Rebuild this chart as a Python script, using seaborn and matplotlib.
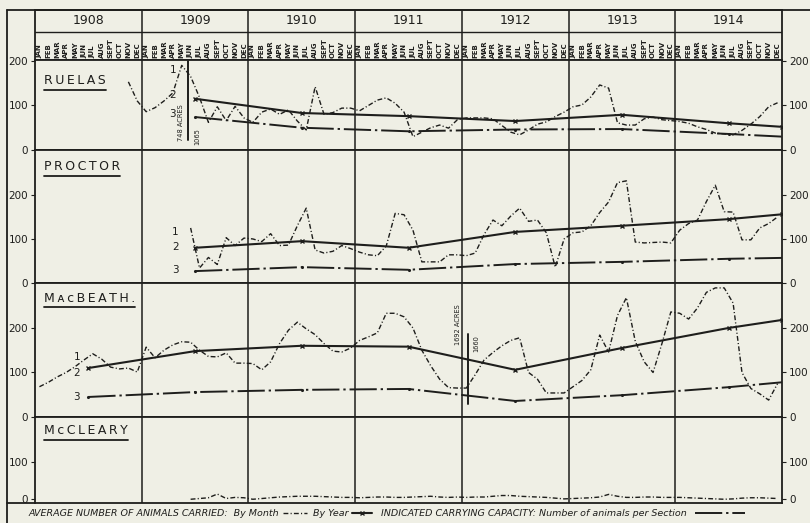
import numpy as np
import pandas as pd
import matplotlib
matplotlib.use('Agg')
import matplotlib.pyplot as plt
import seaborn as sns

# years and month headings
years = [1908, 1909, 1910, 1911, 1912, 1913, 1914]
months = ['JAN', 'FEB', 'MAR', 'APR', 'MAY', 'JUN', 'JUL', 'AUG', 'SEPT', 'OCT', 'NOV', 'DEC']

# average number of animals carried, by month (start = month index, 0 = Jan 1908)
ruelas_start = 10
ruelas_month = [153, 110,
                86, 95, 110, 128, 190, 165, 118, 62, 97, 66, 98, 72,
                62, 85, 92, 80, 90, 65, 45, 142, 80, 84, 94, 94,
                88, 100, 112, 117, 105, 85, 30, 40, 50, 56, 49, 68,
                72, 72, 72, 70, 55, 40, 34, 45, 58, 63, 75, 85,
                97, 101, 119, 146, 139, 61, 56, 56, 70, 74, 68, 66,
                64, 60, 52, 46, 38, 36, 34, 44, 58, 75, 97, 106]

proctor_start = 17
proctor_month = [125, 34, 58, 42, 103, 85, 102,
                 100, 94, 112, 85, 86, 130, 170, 75, 68, 72, 85, 78,
                 70, 64, 62, 84, 158, 155, 120, 48, 48, 48, 64, 64,
                 62, 68, 110, 143, 130, 152, 170, 140, 143, 114, 36, 100,
                 114, 116, 130, 160, 184, 228, 232, 93, 91, 92, 93, 91,
                 120, 135, 143, 185, 222, 162, 161, 98, 98, 125, 135, 150]

macbeath_start = 0
macbeath_month = [68, 78, 90, 100, 113, 128, 142, 130, 112, 108, 110, 101,
                  157, 133, 150, 162, 169, 168, 150, 136, 135, 144, 121, 121,
                  120, 106, 124, 165, 195, 213, 198, 185, 165, 148, 146, 155,
                  172, 180, 189, 233, 233, 225, 200, 150, 115, 85, 66, 65,
                  65, 95, 128, 145, 160, 172, 178, 100, 85, 54, 54, 54,
                  68, 82, 106, 184, 146, 228, 268, 170, 124, 100, 165, 236,
                  233, 220, 245, 280, 290, 290, 256, 100, 64, 52, 38, 75]

mccleary_start = 17
mccleary_month = [0, 2, 4, 14, 2, 5, 4,
                  0, 2, 4, 6, 7, 8, 8, 8, 7, 6, 5, 5,
                  4, 5, 6, 6, 5, 5, 6, 7, 8, 6, 5, 6,
                  5, 6, 6, 8, 10, 10, 8, 7, 6, 5, 3, 1,
                  2, 3, 4, 6, 13, 8, 5, 5, 6, 6, 5, 5,
                  5, 4, 3, 2, 1, 0, 1, 3, 4, 4, 3, 2]

# average by year (first year of record, values, value at end of 1914)
ruelas_year = [115, 83, 76, 65, 79, 60]
ruelas_year_end = 52
proctor_year = [80, 95, 80, 116, 130, 145]
proctor_year_end = 156
macbeath_year = [110, 148, 160, 158, 106, 155, 200]
macbeath_year_end = 218

# indicated carrying capacity
ruelas_cap = [74, 50, 42, 46, 47, 36]
ruelas_cap_end = 30
proctor_cap = [27, 36, 30, 43, 48, 55]
proctor_cap_end = 57
macbeath_cap = [45, 56, 61, 63, 36, 49, 67]
macbeath_cap_end = 78

ink = '#1e1e1c'
paper = '#efefe5'

sns.set_theme(style='white', rc={'figure.facecolor': paper, 'axes.facecolor': paper,
                                 'axes.edgecolor': ink, 'text.color': ink,
                                 'xtick.color': ink, 'ytick.color': ink})
plt.rcParams['font.family'] = ['DejaVu Sans']

W, H = 810, 523
fig = plt.figure(figsize=(W / 100, H / 100), dpi=100)


def box(x0, y0, x1, y1):
    return [x0 / W, 1 - y1 / H, (x1 - x0) / W, (y1 - y0) / H]


def spaced(s):
    return '\u2009'.join(s)


month_ls = (0, (3.5, 1.6, 0.8, 1.6))
cap_ls = (0, (14, 2, 1.2, 2))


def monthly_df(start, vals):
    return pd.DataFrame({'pos': np.arange(start, start + len(vals)) + 0.5, 'head': vals})


def yearly_df(first_year, vals, end):
    pos = [(y - years[0]) * 12 + 6 for y in range(first_year, first_year + len(vals))]
    return pd.DataFrame({'pos': pos + [84], 'head': vals + [end]})


# header with years and months
hdr = fig.add_axes(box(35, 10, 782, 60))
hdr.set_xlim(0, 84)
hdr.set_ylim(60, 10)
hdr.set_xticks([])
hdr.set_yticks([])
hdr.axhline(32, color=ink, lw=1.0)
for k, yr in enumerate(years):
    hdr.text(k * 12 + 6, 21, str(yr), ha='center', va='center', fontsize=9)
    if k:
        hdr.axvline(k * 12, color=ink, lw=1.1)
    for m, mo in enumerate(months):
        hdr.text(k * 12 + m + 0.5, 58.5, mo, rotation=90, ha='center', va='bottom',
                 fontsize=5, fontweight='bold')
for s in hdr.spines.values():
    s.set_linewidth(1.3)

panels = [
    ('RUELAS', box(35, 60, 782, 150), (0, 202), [0, 100, 200], ruelas_start, ruelas_month,
     1909, ruelas_year, ruelas_year_end, ruelas_cap, ruelas_cap_end),
    ('PROCTOR', box(35, 150, 782, 283), (0, 302), [0, 100, 200], proctor_start, proctor_month,
     1909, proctor_year, proctor_year_end, proctor_cap, proctor_cap_end),
    ('MᴀᴄBEATH.', box(35, 283, 782, 417), (0, 301), [0, 100, 200], macbeath_start, macbeath_month,
     1908, macbeath_year, macbeath_year_end, macbeath_cap, macbeath_cap_end),
    ('MᴄCLEARY', box(35, 417, 782, 503), (-10, 220), [0, 100], mccleary_start, mccleary_month,
     None, None, None, None, None),
]
title_y = [(150 - 81) / 90, (283 - 167) / 133, (417 - 298) / 134, (503 - 431) / 86]

axes = []
titles = []
for i, (name, rect, ylim, ticks, mstart, mvals, fy, yv, yend, cv, cend) in enumerate(panels):
    ax = fig.add_axes(rect)
    ax.set_xlim(0, 84)
    ax.set_ylim(*ylim)
    ax.set_xticks([])
    ax.set_yticks(ticks)
    ax.tick_params(axis='y', direction='out', length=3, width=0.8, labelsize=7.5,
                   left=True, right=True, labelleft=True, labelright=True, pad=2)
    for s in ax.spines.values():
        s.set_linewidth(1.3)
    for k in range(1, 7):
        ax.axvline(k * 12, color=ink, lw=1.1)

    sns.lineplot(data=monthly_df(mstart, mvals), x='pos', y='head', ax=ax, color=ink,
                 lw=1.0, linestyle=month_ls, estimator=None, sort=False)
    if yv is not None:
        sns.lineplot(data=yearly_df(fy, yv, yend), x='pos', y='head', ax=ax, color=ink,
                     lw=1.5, marker='x', markersize=3.5, markeredgewidth=1.0,
                     markeredgecolor=ink, estimator=None, sort=False)
        cdf = yearly_df(fy, cv, cend)
        sns.lineplot(data=cdf, x='pos', y='head', ax=ax, color=ink, lw=1.4,
                     linestyle=cap_ls, estimator=None, sort=False)
        sns.scatterplot(data=cdf.iloc[:-1], x='pos', y='head', ax=ax, color=ink,
                        s=5, linewidth=0)
    ax.set_xlabel('')
    ax.set_ylabel('')
    t = ax.text(9 / 747, title_y[i], spaced(name), fontsize=9,
                ha='left', va='center', transform=ax.transAxes)
    titles.append(t)
    axes.append(ax)

ax_r, ax_p, ax_m, ax_c = axes

# line numbers
for ax, xs, ys in [(ax_r, 15.5, [180, 124, 81]), (ax_p, 15.8, [116, 82, 30]),
                   (ax_m, 4.7, [135, 99, 45])]:
    for n, yv in enumerate(ys):
        ax.text(xs, yv, str(n + 1), fontsize=7.5, ha='center', va='center')

# acreage change marks
ax_r.plot([17.2, 17.2], [200, 22], color=ink, lw=1.4)
ax_r.text(16.4, 62, '748 ACRES', rotation=90, fontsize=4.8, ha='center', va='center')
ax_r.text(18.2, 30, '1065', rotation=90, fontsize=4.8, ha='center', va='center')
ax_m.plot([48.7, 48.7], [186, 30], color=ink, lw=1.4)
ax_m.text(47.6, 208, '1692 ACRES', rotation=90, fontsize=4.8, ha='center', va='center')
ax_m.text(49.6, 166, '1660', rotation=90, fontsize=4.8, ha='center', va='center')

# frame and legend row
frame = fig.add_axes([0, 0, 1, 1], facecolor='none')
frame.set_xlim(0, W)
frame.set_ylim(H, 0)
frame.axis('off')
frame.plot([7, 7], [10, H], color=ink, lw=1.3)
frame.plot([7, W], [10, 10], color=ink, lw=1.3)
frame.plot([7, 35], [503, 503], color=ink, lw=1.3)

r = fig.canvas.get_renderer()
inv = frame.transData.inverted()


def right_edge(t):
    bb = t.get_window_extent(renderer=r)
    return inv.transform((bb.x1, 0))[0]


for t in titles:
    bb = t.get_window_extent(renderer=r)
    (x0, y0), (x1, _) = inv.transform([(bb.x0, bb.y0), (bb.x1, bb.y0)])
    frame.plot([x0, x1], [y0 + 2.5, y0 + 2.5], color=ink, lw=1.3)

ly = 513
lt = dict(fontsize=6.8, style='italic', va='center', ha='left')
t1 = frame.text(28, ly, 'AVERAGE NUMBER OF ANIMALS CARRIED:  By Month', **lt)
x = right_edge(t1) + 4
frame.plot([x, x + 24], [ly, ly], color=ink, lw=1.0, linestyle=month_ls)
t2 = frame.text(x + 30, ly, 'By Year', **lt)
x = right_edge(t2) + 4
frame.plot([x, x + 20], [ly, ly], color=ink, lw=1.5)
frame.plot([x + 10], [ly], color=ink, marker='x', markersize=3, markeredgewidth=1.0)
t3 = frame.text(x + 29, ly, 'INDICATED CARRYING CAPACITY: Number of animals per Section', **lt)
x = right_edge(t3) + 8
frame.plot([x, x + 50], [ly, ly], color=ink, lw=1.4, linestyle=cap_ls)

fig.savefig('out.png', dpi=100, facecolor=paper)
